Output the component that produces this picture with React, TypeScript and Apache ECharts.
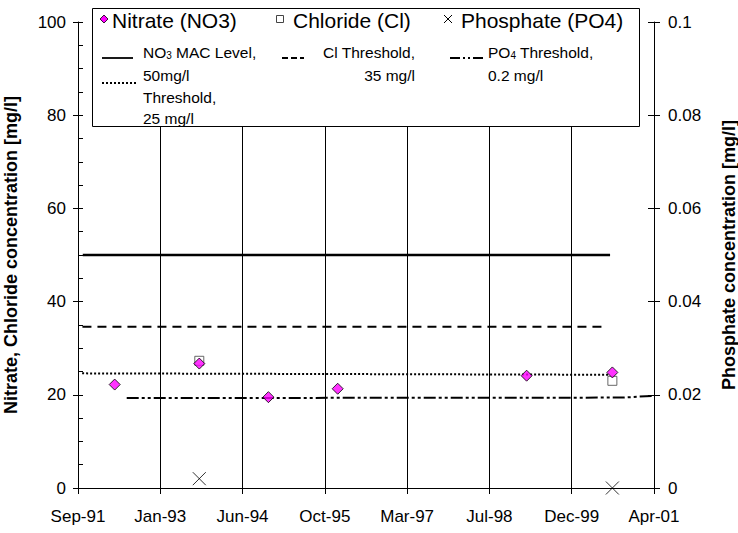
import React, { useEffect, useRef } from "react";
import * as echarts from "echarts";

// Dates are converted to day offsets from the axis origin (15 Sep 1991)
const axisOriginDate = "1991-09-15";
const xTickIntervalDays = 500;
const xMaxDays = 3500;
const monthNames = ["Jan","Feb","Mar","Apr","May","Jun","Jul","Aug","Sep","Oct","Nov","Dec"];

const nitrateDates = ["1992-04-25", "1993-09-21", "1994-11-15", "1996-01-10", "1999-03-03", "2000-08-05"];
const nitrateValues = [22.2, 26.7, 19.5, 21.3, 24.1, 24.8];

const chlorideDates = ["1993-09-21", "2000-08-05"];
const chlorideValues = [27.3, 23.0];

const phosphateDates = ["1993-09-21", "2000-08-05"];
const phosphateValues = [0.002, 0.0];

const no3MacDates = ["1991-10-14", "2000-07-22"];
const no3MacValues = [50, 50];

const clThresholdDates = ["1991-10-12", "2000-07-02"];
const clThresholdValues = [34.6, 34.6];

const no3ThresholdDates = ["1991-10-10", "2000-07-22"];
const no3ThresholdValues = [24.6, 24.3];

const po4ThresholdDates = ["1992-07-07", "2000-10-09", "2001-04-19"];
const po4ThresholdValues = [0.0193, 0.0194, 0.0198];

const leftTicks = { min: 0, max: 100, interval: 20, minor: 5 };
const rightTicks = { min: 0, max: 0.1, interval: 0.02 };

const DAY = 86400000;
const base = Date.parse(axisOriginDate + "T00:00:00Z");
const toDay = (s: string) => Math.round((Date.parse(s + "T00:00:00Z") - base) / DAY);
const pairs = (d: string[], v: number[]) => d.map((s, i) => [toDay(s), v[i]]);

const FONT = "Liberation Sans, Arial, sans-serif";

export default function App() {
  const ref = useRef<HTMLDivElement>(null);
  useEffect(() => {
    if (!ref.current) return;
    const chart = echarts.init(ref.current, undefined, { renderer: "svg" });
    const axisLine = { show: true, lineStyle: { color: "#000", width: 1 } };
    const lbl = { color: "#000", fontSize: 17, fontFamily: FONT };
    const lineSeries = (name: string, d: string[], v: number[], type: any, width: number, yIdx = 0) => ({
      name, type: "line", data: pairs(d, v), yAxisIndex: yIdx, symbol: "none", silent: true,
      lineStyle: { color: "#000", width, type },
    });
    const subRich = {
      sub: { fontSize: 10, fontFamily: FONT, fill: "#000", padding: [7, 0, 0, 0] },
    };
    const t = (x: number, y: number, text: string, size: number, align = "left", rich?: any) => ({
      type: "text", x, y, z: 101,
      style: { text, fontSize: size, fontFamily: FONT, fill: "#000", align, verticalAlign: "middle", rich },
    });
    const ln = (x1: number, y1: number, x2: number, lineDash: any, width = 2) => ({
      type: "line", z: 101, shape: { x1, y1, x2, y2: y1 },
      style: { stroke: "#000", lineWidth: width, lineDash },
    });
    chart.setOption({
      animation: false,
      grid: { left: 78, right: 84, top: 22, bottom: 45, containLabel: false, outerBoundsMode: "none" },
      xAxis: {
        type: "value", min: 0, max: xMaxDays, interval: xTickIntervalDays,
        axisLine, axisTick: { show: true, inside: false, length: 6, lineStyle: { color: "#000" } },
        splitLine: { show: true, lineStyle: { color: "#000", width: 1 } },
        axisLabel: {
          ...lbl, margin: 20,
          formatter: (v: number) => {
            const d = new Date(base + v * DAY);
            return monthNames[d.getUTCMonth()] + "-" + String(d.getUTCFullYear()).slice(2);
          },
        },
      },
      yAxis: [
        {
          type: "value", position: "left", min: leftTicks.min, max: leftTicks.max, interval: leftTicks.interval,
          axisLine, axisTick: { show: true, inside: false, length: 5, lineStyle: { color: "#000" } },
          splitLine: { show: false }, axisLabel: { ...lbl, margin: 12 },
          name: "Nitrate, Chloride concentration [mg/l]", nameLocation: "middle", nameGap: 58,
          nameTextStyle: { color: "#000", fontSize: 18, fontWeight: "bold", fontFamily: FONT },
        },
        {
          type: "value", position: "right", min: rightTicks.min, max: rightTicks.max, interval: rightTicks.interval,
          axisLine, axisTick: { show: true, inside: false, length: 6, lineStyle: { color: "#000" } },
          splitLine: { show: false },
          axisLabel: { ...lbl, margin: 14, formatter: (v: number) => String(+v.toFixed(2)) },
          name: "Phosphate concentration [mg/l]", nameLocation: "middle", nameGap: 66, nameRotate: 90,
          nameTextStyle: { color: "#000", fontSize: 18, fontWeight: "bold", fontFamily: FONT },
        },
        {
          type: "value", position: "left", min: leftTicks.min, max: leftTicks.max, interval: leftTicks.minor,
          axisLine: { show: false }, axisTick: { show: true, inside: true, length: 5, lineStyle: { color: "#000" } },
          splitLine: { show: false }, axisLabel: { show: false },
        },
        {
          type: "value", position: "right", min: rightTicks.min, max: rightTicks.max, interval: rightTicks.interval,
          axisLine: { show: false }, axisTick: { show: true, inside: true, length: 6, lineStyle: { color: "#000" } },
          splitLine: { show: false }, axisLabel: { show: false },
        },
      ],
      series: [
        lineSeries("NO3 MAC Level", no3MacDates, no3MacValues, "solid", 2.5),
        lineSeries("Cl Threshold", clThresholdDates, clThresholdValues, [9, 6], 2),
        lineSeries("Threshold", no3ThresholdDates, no3ThresholdValues, [2, 2], 2),
        lineSeries("PO4 Threshold", po4ThresholdDates, po4ThresholdValues, [12, 3, 3, 3, 3, 3], 2, 1),
        {
          name: "Chloride (Cl)", type: "scatter", data: pairs(chlorideDates, chlorideValues),
          symbol: "rect", symbolSize: 9, itemStyle: { color: "#fff", borderColor: "#444", borderWidth: 1 }, z: 5,
        },
        {
          name: "Nitrate (NO3)", type: "scatter", data: pairs(nitrateDates, nitrateValues),
          symbol: "diamond", symbolSize: 11, itemStyle: { color: "#ff00ff", borderColor: "#000", borderWidth: 1 }, z: 6,
        },
        {
          name: "Phosphate (PO4)", type: "scatter", yAxisIndex: 1, data: pairs(phosphateDates, phosphateValues),
          symbol: "path://M0,0L10,10M10,0L0,10", symbolSize: 13,
          itemStyle: { color: "none", borderColor: "#000", borderWidth: 1 }, z: 6,
        },
      ],
      graphic: [
        { type: "rect", z: 100, shape: { x: 92.5, y: 8.5, width: 547, height: 118 },
          style: { fill: "#fff", stroke: "#000", lineWidth: 1 } },
        { type: "polygon", z: 101, shape: { points: [[104, 15], [108, 19], [104, 23], [100, 19]] },
          style: { fill: "#ff00ff", stroke: "#000", lineWidth: 0.8 } },
        t(112, 20, "Nitrate (NO3)", 21),
        { type: "rect", z: 101, shape: { x: 276.5, y: 15.5, width: 7, height: 7 },
          style: { fill: "#fff", stroke: "#444", lineWidth: 1 } },
        t(293, 20, "Chloride (Cl)", 21),
        { type: "line", z: 101, shape: { x1: 444, y1: 15, x2: 452, y2: 23 }, style: { stroke: "#000", lineWidth: 1 } },
        { type: "line", z: 101, shape: { x1: 452, y1: 15, x2: 444, y2: 23 }, style: { stroke: "#000", lineWidth: 1 } },
        t(461, 20, "Phosphate (PO4)", 21),
        ln(102, 58, 133, null, 1.8),
        t(143, 52, "NO{sub|3} MAC Level,", 15.5, "left", subRich),
        t(143, 75, "50mg/l", 15.5),
        ln(102, 83, 137, [2, 2], 2),
        t(143, 97, "Threshold,", 15.5),
        t(143, 118, "25 mg/l", 15.5),
        ln(282, 58, 304, [6, 3], 2),
        t(415, 52, "Cl Threshold,", 15.5, "right"),
        t(415, 75, "35 mg/l", 15.5, "right"),
        ln(450, 58, 484, [10, 3, 2, 3, 2, 3], 2),
        t(488, 52, "PO{sub|4} Threshold,", 15.5, "left", subRich),
        t(488, 75, "0.2 mg/l", 15.5),
      ],
    });
    return () => chart.dispose();
  }, []);
  return <div ref={ref} style={{ width: 738, height: 533, position: "absolute", left: 0, top: 0 }} />;
}
